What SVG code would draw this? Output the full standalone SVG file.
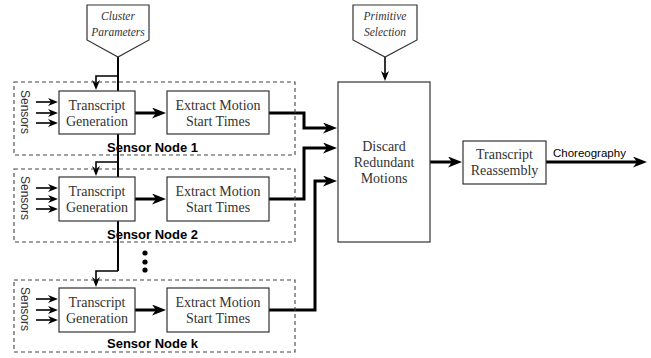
<svg xmlns="http://www.w3.org/2000/svg" width="651" height="358" viewBox="0 0 651 358">
<style>
.box{fill:#fff;stroke:#333;stroke-width:1.2}
.dash{fill:none;stroke:#444;stroke-width:1.1;stroke-dasharray:4,3}
.st{font-family:"Liberation Serif",serif;font-size:14px;fill:#333;text-anchor:middle}
.it{font-family:"Liberation Serif",serif;font-style:italic;font-size:11.5px;fill:#333;text-anchor:middle}
.lbl{font-family:"Liberation Sans",Arial,sans-serif;font-weight:bold;font-size:13px;fill:#000}
.sn{font-family:"Liberation Sans",Arial,sans-serif;font-size:12px;fill:#333;text-anchor:middle}
.ch{font-family:"Liberation Sans",Arial,sans-serif;font-size:11.5px;fill:#000}
.thick{fill:none;stroke:#000;stroke-width:3;marker-end:url(#ah)}
.thin{fill:none;stroke:#000;stroke-width:1.6;marker-end:url(#at)}
.trunk{fill:none;stroke:#000;stroke-width:2}
</style>
<defs>
<marker id="ah" markerWidth="15" markerHeight="11" refX="8" refY="5.5" orient="auto" markerUnits="userSpaceOnUse"><path d="M0,0 L14,5.5 L0,11 L4,5.5 z" fill="#000"/></marker>
<marker id="at" markerWidth="11" markerHeight="8" refX="6" refY="4" orient="auto" markerUnits="userSpaceOnUse"><path d="M0,0 L10,4 L0,8 L3,4 z" fill="#000"/></marker>
</defs>

<g id="connectors">
<path class="trunk" d="M118,57 V271"/>
<path class="thin" d="M118,76 H96 V86"/>
<path class="thin" d="M118,162 H96 V172"/>
<path class="thin" d="M118,271 H96 V283"/>
<path class="thin" d="M385,57 V77"/>
<path class="thin" d="M36,102 H54"/><path class="thin" d="M36,113 H54"/><path class="thin" d="M36,123 H54"/>
<path class="thin" d="M36,188 H54"/><path class="thin" d="M36,199 H54"/><path class="thin" d="M36,209 H54"/>
<path class="thin" d="M36,299 H54"/><path class="thin" d="M36,310 H54"/><path class="thin" d="M36,320 H54"/>
<path class="thick" d="M135,113 H160"/>
<path class="thick" d="M135,199 H160"/>
<path class="thick" d="M135,310 H160"/>
<path class="thick" d="M269,113 H304 V128 H331"/>
<path class="thick" d="M269,199 H304 V148 H331"/>
<path class="thick" d="M269,310 H315 V181 H331"/>
<path class="thick" d="M430,162 H456"/>
<path class="thick" d="M546,162 H641"/>
</g>

<g id="cluster-parameters">
<path class="box" d="M87,5 H149 V40 L118,57 L87,40 Z"/>
<text class="it" x="118" y="20">Cluster</text>
<text class="it" x="118" y="36">Parameters</text>
</g>
<g id="primitive-selection">
<path class="box" d="M353,5 H417 V40 L385,57 L353,40 Z"/>
<text class="it" x="385" y="20">Primitive</text>
<text class="it" x="385" y="36">Selection</text>
</g>

<g id="sensor-node-1">
<rect class="dash" x="14" y="82" width="281" height="73"/>
<text class="sn" transform="translate(21,112) rotate(90)">Sensors</text>
<text class="lbl" x="107" y="152">Sensor Node 1</text>
</g>
<g id="transcript-generation-1">
<rect class="box" x="59" y="91" width="76" height="43"/>
<text class="st" x="97" y="110">Transcript</text>
<text class="st" x="97" y="126">Generation</text>
</g>
<g id="extract-motion-1">
<rect class="box" x="167" y="91" width="102" height="43"/>
<text class="st" x="218" y="110">Extract Motion</text>
<text class="st" x="218" y="126">Start Times</text>
</g>

<g id="sensor-node-2">
<rect class="dash" x="14" y="169" width="281" height="73"/>
<text class="sn" transform="translate(21,198) rotate(90)">Sensors</text>
<text class="lbl" x="107" y="239">Sensor Node 2</text>
</g>
<g id="transcript-generation-2">
<rect class="box" x="59" y="177" width="76" height="44"/>
<text class="st" x="97" y="196">Transcript</text>
<text class="st" x="97" y="212">Generation</text>
</g>
<g id="extract-motion-2">
<rect class="box" x="167" y="177" width="102" height="44"/>
<text class="st" x="218" y="196">Extract Motion</text>
<text class="st" x="218" y="212">Start Times</text>
</g>

<g id="ellipsis">
<circle cx="145" cy="253" r="2.6" fill="#000"/>
<circle cx="145" cy="262" r="2.6" fill="#000"/>
<circle cx="145" cy="270" r="2.6" fill="#000"/>
</g>

<g id="sensor-node-k">
<rect class="dash" x="14" y="280" width="281" height="72"/>
<text class="sn" transform="translate(21,309) rotate(90)">Sensors</text>
<text class="lbl" x="107" y="348">Sensor Node k</text>
</g>
<g id="transcript-generation-k">
<rect class="box" x="59" y="288" width="76" height="44"/>
<text class="st" x="97" y="307">Transcript</text>
<text class="st" x="97" y="323">Generation</text>
</g>
<g id="extract-motion-k">
<rect class="box" x="167" y="288" width="102" height="44"/>
<text class="st" x="218" y="307">Extract Motion</text>
<text class="st" x="218" y="323">Start Times</text>
</g>

<g id="discard">
<rect class="box" x="338" y="82" width="92" height="160"/>
<text class="st" x="384" y="151">Discard</text>
<text class="st" x="384" y="167">Redundant</text>
<text class="st" x="384" y="183">Motions</text>
</g>
<g id="transcript-reassembly">
<rect class="box" x="463" y="141" width="83" height="43"/>
<text class="st" x="504.5" y="159">Transcript</text>
<text class="st" x="504.5" y="175">Reassembly</text>
</g>
<g id="choreography-label">
<text class="ch" x="553" y="157">Choreography</text>
</g>
</svg>
